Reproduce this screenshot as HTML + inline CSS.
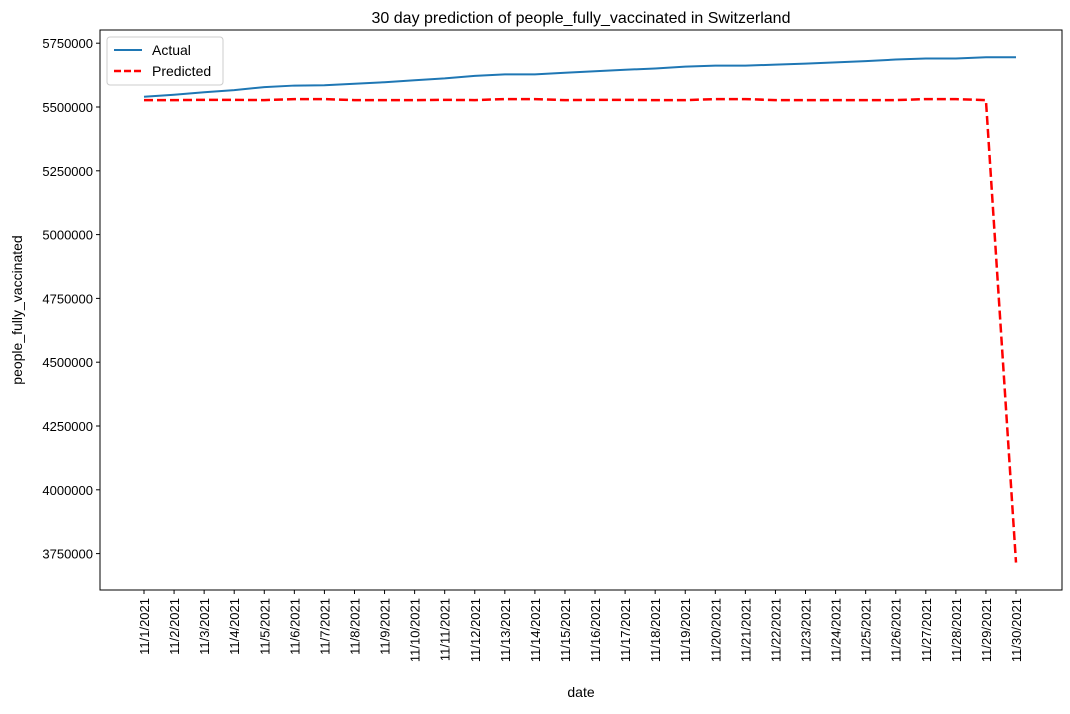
<!DOCTYPE html>
<html><head><meta charset="utf-8"><style>
body{margin:0;background:#fff;font-family:"Liberation Sans",sans-serif;}
text{font-family:"Liberation Sans",sans-serif;fill:#000;}
</style></head><body>
<svg id="chart" width="1070" height="709" xmlns="http://www.w3.org/2000/svg">
<rect width="1070" height="709" fill="#fff"/>
<text x="581" y="23" text-anchor="middle" font-size="16">30 day prediction of people_fully_vaccinated in Switzerland</text>
<g id="ticks"></g>
<g id="marks"></g>
<rect x="100" y="30" width="962" height="560" fill="none" stroke="#000" stroke-width="1"/>
<text x="581" y="697" text-anchor="middle" font-size="14">date</text>
<text transform="translate(22,310) rotate(-90)" text-anchor="middle" font-size="14">people_fully_vaccinated</text>
<g>
<rect x="107" y="37" width="116" height="48" rx="3" fill="#fff" stroke="#ccc"/>
<line x1="114" y1="50" x2="142" y2="50" stroke="#1f77b4" stroke-width="2"/>
<text x="152" y="55" font-size="14">Actual</text>
<line x1="114" y1="71" x2="142" y2="71" stroke="red" stroke-width="2.5" stroke-dasharray="7,3"/>
<text x="152" y="76" font-size="14">Predicted</text>
</g>
</svg>
<script>
const categories = Array.from({length:30},(_,i)=>"11/"+(i+1)+"/2021");
const actual = [5540000,5548000,5558000,5566000,5578000,5584000,5585000,5591000,5597000,5605000,5612000,5622000,5628000,5628000,5634000,5640000,5646000,5651000,5658000,5662000,5662000,5666000,5670000,5675000,5680000,5686000,5690000,5690000,5695000,5695000];
const predicted = [5527000,5527000,5528000,5528000,5527000,5531000,5531000,5527000,5527000,5527000,5528000,5527000,5531000,5531000,5527000,5528000,5528000,5527000,5527000,5531000,5531000,5527000,5527000,5527000,5527000,5527000,5531000,5531000,5527000,3715000];
const yTicks = [3750000,4000000,4250000,4500000,4750000,5000000,5250000,5500000,5750000];
const NS="http://www.w3.org/2000/svg";
const xS = i => 144 + i*(1016-144)/29;
const yS = v => 107 - (v-5500000)/250000*63.8;
const tg=document.getElementById('ticks'), mg=document.getElementById('marks');
function mk(t,a,p){const e=document.createElementNS(NS,t);for(const k in a)e.setAttribute(k,a[k]);p.appendChild(e);return e;}
yTicks.forEach(v=>{
 const y=yS(v);
 const l=mk('line',{x1:96,x2:100,y1:y,y2:y,stroke:'#000'},tg);
 
 
 const t=mk('text',{x:93,y:y+5,'text-anchor':'end','font-size':13},tg);t.textContent=v;
 
 
});
categories.forEach((c,i)=>{
 const x=xS(i);
 const l=mk('line',{x1:x,x2:x,y1:590,y2:594,stroke:'#000'},tg);
 
 
 const t=mk('text',{transform:`translate(${x+5},598) rotate(-90)`,'text-anchor':'end','font-size':13},tg);t.textContent=c;
 
 
});
const a=mk('polyline',{points:actual.map((v,i)=>xS(i)+','+yS(v)).join(' '),fill:'none',stroke:'#1f77b4','stroke-width':2},mg);


const p=mk('polyline',{points:predicted.map((v,i)=>xS(i)+','+yS(v)).join(' '),fill:'none',stroke:'red','stroke-width':2.5,'stroke-dasharray':'9,4'},mg);


</script>
</body></html>
